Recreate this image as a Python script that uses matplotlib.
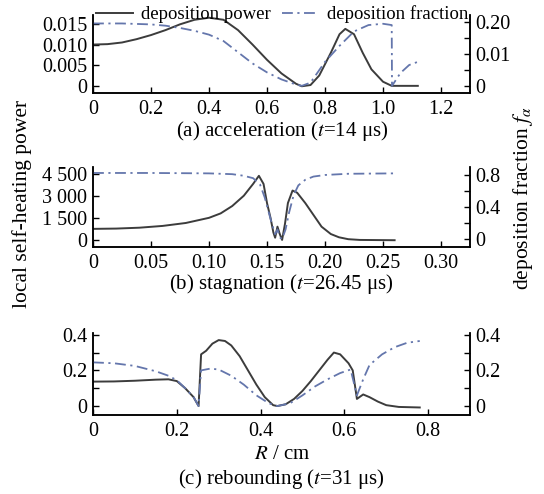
import numpy as np
import matplotlib.pyplot as plt

plt.rcParams['font.family'] = ['Liberation Serif', 'DejaVu Serif']
plt.rcParams['mathtext.fontset'] = 'stix'

# (a) acceleration, t = 14 us
ra = [0, 0.05, 0.1, 0.15, 0.2, 0.25, 0.3, 0.35, 0.4, 0.45, 0.5, 0.55, 0.6, 0.65,
      0.7, 0.72, 0.75, 0.78, 0.82, 0.85, 0.87, 0.9, 0.93, 0.96, 1.0, 1.03, 1.12]
pa = [0.0100, 0.0101, 0.0105, 0.0113, 0.0123, 0.0135, 0.0149, 0.0160, 0.0165, 0.0160,
      0.0135, 0.0100, 0.0063, 0.0030, 0.0005, -0.0001, 0.0002, 0.0025, 0.0080, 0.0125,
      0.0138, 0.0125, 0.0080, 0.0040, 0.0010, 0.0, 0.0]
ra_f = [0, 0.1, 0.2, 0.25, 0.3, 0.35, 0.4, 0.45, 0.5, 0.55, 0.6, 0.65, 0.7, 0.72,
        0.75, 0.8, 0.85, 0.9, 0.95, 1.0, 1.03, 1.031, 1.06, 1.09, 1.12]
fa = [0.195, 0.195, 0.192, 0.188, 0.181, 0.172, 0.160, 0.140, 0.105, 0.070, 0.042,
      0.020, 0.004, 0.0, 0.010, 0.075, 0.125, 0.170, 0.190, 0.194, 0.190, 0.0, 0.040,
      0.065, 0.075]

# (b) stagnation, t = 26.45 us
rb = [0, 0.02, 0.04, 0.06, 0.08, 0.10, 0.11, 0.12, 0.13, 0.138, 0.143, 0.147, 0.150,
      0.153, 0.1555, 0.157, 0.159, 0.161, 0.163, 0.1655, 0.168, 0.172, 0.176, 0.183,
      0.19, 0.197, 0.205, 0.212, 0.22, 0.23, 0.26]
pb = [750, 770, 830, 950, 1150, 1500, 1800, 2300, 3000, 3800, 4350, 3800, 2500, 1500,
      500, 150, 900, 400, 0, 1100, 2500, 3350, 3200, 2500, 1700, 900, 400, 180, 50, 0, -20]
rb_f = [0, 0.05, 0.10, 0.12, 0.13, 0.138, 0.144, 0.148, 0.151, 0.154, 0.157, 0.159,
        0.161, 0.163, 0.166, 0.169, 0.173, 0.177, 0.183, 0.19, 0.20, 0.22, 0.26]
fb = [0.825, 0.825, 0.82, 0.81, 0.79, 0.76, 0.68, 0.52, 0.36, 0.20, 0.06, 0.12, 0.02,
      0.0, 0.12, 0.33, 0.55, 0.67, 0.74, 0.78, 0.80, 0.815, 0.82]

# (c) rebounding, t = 31 us
rc = [0, 0.05, 0.1, 0.15, 0.18, 0.2, 0.22, 0.24, 0.252, 0.258, 0.27, 0.285, 0.30, 0.315,
      0.33, 0.35, 0.37, 0.39, 0.41, 0.43, 0.44, 0.46, 0.48, 0.50, 0.52, 0.54, 0.56, 0.575,
      0.59, 0.61, 0.62, 0.63, 0.645, 0.66, 0.68, 0.70, 0.73, 0.78]
pc = [0.137, 0.138, 0.142, 0.148, 0.150, 0.140, 0.100, 0.050, 0.0, 0.29, 0.31, 0.35,
      0.37, 0.365, 0.34, 0.28, 0.20, 0.12, 0.05, 0.005, 0.0, 0.01, 0.04, 0.085, 0.14,
      0.20, 0.26, 0.30, 0.29, 0.24, 0.20, 0.04, 0.065, 0.05, 0.025, 0.005, -0.005, -0.008]
rc_f = [0, 0.05, 0.1, 0.15, 0.18, 0.2, 0.22, 0.24, 0.252, 0.258, 0.28, 0.30, 0.33, 0.36,
        0.39, 0.42, 0.44, 0.47, 0.50, 0.53, 0.56, 0.59, 0.615, 0.63, 0.645, 0.66, 0.69,
        0.72, 0.75, 0.78]
fc = [0.245, 0.240, 0.225, 0.195, 0.170, 0.145, 0.100, 0.050, 0.0, 0.20, 0.21, 0.205,
      0.17, 0.12, 0.06, 0.015, 0.0, 0.015, 0.06, 0.11, 0.15, 0.185, 0.205, 0.06, 0.15,
      0.23, 0.29, 0.33, 0.355, 0.365]

power_color = '#3c3c3c'
frac_color = '#6476ac'
fs = 14.5

fig = plt.figure(figsize=(5.44, 4.94), dpi=100)


def style(ax, ax2):
    for a in (ax, ax2):
        a.spines['top'].set_visible(False)
        for s in ('left', 'right', 'bottom'):
            a.spines[s].set_linewidth(1.1)
        a.tick_params(direction='in', length=4, width=1, labelsize=fs, pad=4)
    ax.tick_params(axis='x', pad=5)


panels = [
    dict(pos=[0.171, 0.812, 0.693, 0.158], r=ra, p=pa, rf=ra_f, f=fa,
         xlim=(0, 1.3), xt=[0, 0.2, 0.4, 0.6, 0.8, 1.0, 1.2],
         xtl=['0', '0.2', '0.4', '0.6', '0.8', '1.0', '1.2'],
         ylim=(-0.0017, 0.0172), yt=[0, 0.005, 0.010, 0.015],
         ytl=['0', '0.005', '0.010', '0.015'],
         y2lim=(-0.022, 0.222), y2t=[0, 0.1, 0.2], y2tl=['0', '0.01', '0.20'],
         y2minor=[0.05, 0.15],
         cap='(a) acceleration ($t$=14 μs)', capy=0.734),
    dict(pos=[0.171, 0.500, 0.693, 0.162], r=rb, p=pb, rf=rb_f, f=fb,
         xlim=(0, 0.325), xt=[0, 0.05, 0.10, 0.15, 0.20, 0.25, 0.30],
         xtl=['0', '0.05', '0.10', '0.15', '0.20', '0.25', '0.30'],
         ylim=(-480, 4950), yt=[0, 1500, 3000, 4500],
         ytl=['0', '1 500', '3 000', '4 500'],
         y2lim=(-0.1, 0.9), y2t=[0, 0.4, 0.8], y2tl=['0', '0.4', '0.8'],
         y2minor=[0.2, 0.6],
         cap='(b) stagnation ($t$=26.45 μs)', capy=0.426),
    dict(pos=[0.171, 0.160, 0.693, 0.166], r=rc, p=pc, rf=rc_f, f=fc,
         xlim=(0, 0.9), xt=[0, 0.2, 0.4, 0.6, 0.8],
         xtl=['0', '0.2', '0.4', '0.6', '0.8'],
         ylim=(-0.05, 0.41), yt=[0, 0.2, 0.4], ytl=['0', '0.2', '0.4'],
         y2lim=(-0.05, 0.41), y2t=[0, 0.2, 0.4], y2tl=['0', '0.2', '0.4'],
         y2minor=[0.1, 0.3],
         cap='(c) rebounding ($t$=31 μs)', capy=0.030),
]

for i, pnl in enumerate(panels):
    ax = fig.add_axes(pnl['pos'])
    ax2 = ax.twinx()
    lp, = ax.plot(pnl['r'], pnl['p'], color=power_color, lw=1.4, label='deposition power')
    lf, = ax2.plot(pnl['rf'], pnl['f'], color=frac_color, lw=1.3, ls='-.',
                   dashes=(6, 2.5, 1.2, 2.5), label='deposition fraction')
    ax.set_xlim(pnl['xlim'])
    ax.set_xticks(pnl['xt'])
    ax.set_xticklabels(pnl['xtl'])
    ax.set_ylim(pnl['ylim'])
    ax.set_yticks(pnl['yt'])
    ax.set_yticklabels(pnl['ytl'])
    ax2.set_ylim(pnl['y2lim'])
    ax2.set_yticks(pnl['y2t'])
    ax2.set_yticklabels(pnl['y2tl'])
    ax2.set_yticks(pnl['y2minor'], minor=True)
    ax2.tick_params(which='minor', direction='in', length=4, width=1)
    if i == 2:
        ax.set_yticks([0.1, 0.3], minor=True)
        ax.tick_params(which='minor', direction='in', length=4, width=1)
    style(ax, ax2)
    fig.text(0.518, pnl['capy'], pnl['cap'], ha='center', va='center', fontsize=15)
    if i == 0:
        fig.legend(handles=[lp, lf], loc='upper center', bbox_to_anchor=(0.518, 1.012),
                   ncol=2, frameon=False, fontsize=13.5, handlelength=2.0,
                   columnspacing=0.6, handletextpad=0.4, borderpad=0.1)

fig.text(0.518, 0.079, '$R$ / cm', ha='center', va='center', fontsize=15)
fig.text(0.04, 0.587, 'local self-heating power', rotation=90, ha='center', va='center',
         fontsize=15.5)
fig.text(0.962, 0.599, r'deposition fraction $f_\alpha$', rotation=90, ha='center',
         va='center', fontsize=15.5)

plt.savefig('out.png', dpi=100)
